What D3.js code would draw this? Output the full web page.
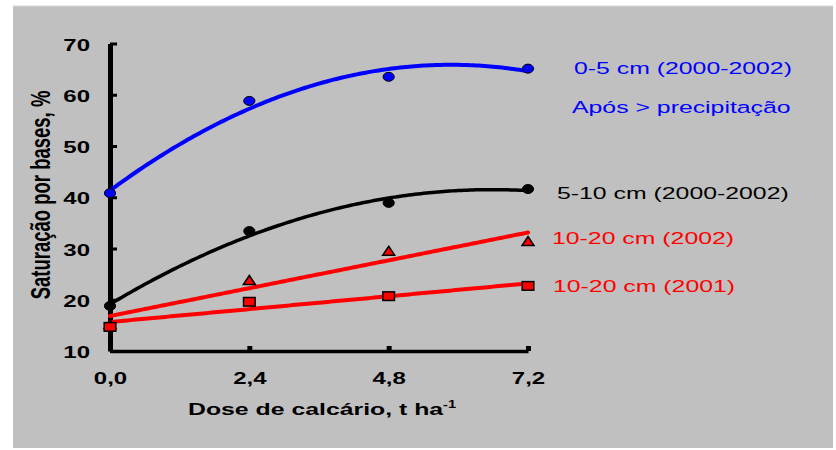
<!DOCTYPE html>
<html>
<head>
<meta charset="utf-8">
<script src="https://cdn.jsdelivr.net/npm/d3@7"></script>
<style>
  body { margin: 0; background: #fff; }
  svg { display: block; }
  text { font-family: Arial, "Liberation Sans", sans-serif; }
</style>
</head>
<body>
<script>
// data
var doses = [0, 2.4, 4.8, 7.2];
var sat0to5 = [40.8, 58.8, 63.5, 65.1];
var sat5to10 = [18.8, 33.4, 38.9, 41.6];
var sat10to20y2002 = [15.2, 23.8, 29.5, 31.4];
var sat10to20y2001 = [14.7, 19.6, 20.7, 22.7];
var yTicks = [10, 20, 30, 40, 50, 60, 70];
var xTicks = [0, 2.4, 4.8, 7.2];
var legendLabels = ["0-5 cm (2000-2002)", "Após > precipitação", "5-10 cm (2000-2002)", "10-20 cm (2002)", "10-20 cm (2001)"];

var width = 836, height = 450;
var SX = 1.5; // the original picture is stretched sideways

// least squares trendline, like the spreadsheet does
var polyfit = function(xs, ys, deg) {
    var n = deg + 1, m = [];
    for (var i = 0; i < n; i++) {
        m[i] = [];
        for (var j = 0; j < n; j++) {
            m[i][j] = d3.sum(xs, function(x) { return Math.pow(x, i + j); });
        }
        m[i][n] = d3.sum(xs, function(x, k) { return Math.pow(x, i) * ys[k]; });
    }
    for (var c = 0; c < n; c++) {
        for (var r = c + 1; r < n; r++) {
            var f = m[r][c] / m[c][c];
            for (var q = c; q <= n; q++) m[r][q] -= f * m[c][q];
        }
    }
    var coef = [];
    for (var r2 = n - 1; r2 >= 0; r2--) {
        var s = m[r2][n];
        for (var q2 = r2 + 1; q2 < n; q2++) s -= m[r2][q2] * coef[q2];
        coef[r2] = s / m[r2][r2];
    }
    return function(x) {
        return d3.sum(coef, function(a, k) { return a * Math.pow(x, k); });
    };
};

var series = [
    {values: sat0to5, deg: 2, color: "#0000ff", width: 4, marker: "circle", fill: "#0000ff", stroke: "#000"},
    {values: sat5to10, deg: 2, color: "#000000", width: 3.5, marker: "circle", fill: "#000", stroke: "#000"},
    {values: sat10to20y2002, deg: 1, color: "#ff0000", width: 4, marker: "triangle", fill: "#ff0000", stroke: "#000"},
    {values: sat10to20y2001, deg: 1, color: "#ff0000", width: 4, marker: "square", fill: "#ff0000", stroke: "#000"}
];

var svg = d3.select("body").append("svg")
    .attr("width", width)
    .attr("height", height);

svg.append("rect")
    .attr("x", 13).attr("y", 6)
    .attr("width", 820).attr("height", 442)
    .attr("fill", "#c0c0c0");
svg.append("line")
    .attr("x1", 13).attr("x2", 833).attr("y1", 6).attr("y2", 6)
    .attr("stroke", "#d8d8d8").attr("stroke-width", 1);

var x = d3.scaleLinear().domain([0, 7.2]).range([110, 528]);
var y = d3.scaleLinear().domain([10, 70]).range([351, 43.5]);

// y axis
var yAxis = svg.append("g")
    .attr("transform", "translate(110,0)")
    .call(d3.axisLeft(y).tickValues(yTicks).tickSizeInner(-7).tickSizeOuter(0));
yAxis.select(".domain").attr("stroke", "#000").attr("stroke-width", 5);
yAxis.selectAll(".tick line").attr("stroke", "#000").attr("stroke-width", 3);
yAxis.selectAll(".tick text")
    .attr("x", 0).attr("dy", "0.42em")
    .attr("transform", "translate(-20,0) scale(" + SX + ",1)")
    .attr("text-anchor", "end")
    .style("font-size", "16px").style("font-weight", "bold")
    .attr("fill", "#000");

// x axis
var xAxis = svg.append("g")
    .attr("transform", "translate(0,351)")
    .call(d3.axisBottom(x).tickValues(xTicks).tickSizeInner(-5).tickSizeOuter(0).tickPadding(22)
        .tickFormat(function(d) { return d.toFixed(1).replace(".", ","); }));
xAxis.select(".domain").attr("stroke", "#000").attr("stroke-width", 3.5);
xAxis.selectAll(".tick line").attr("stroke", "#000").attr("stroke-width", 5);
xAxis.selectAll(".tick text")
    .attr("transform", "scale(" + SX + ",1)")
    .style("font-size", "16px").style("font-weight", "bold")
    .attr("fill", "#000");

// axis titles
var xt = svg.append("text")
    .attr("transform", "translate(188,415) scale(1.46,1)")
    .style("font-size", "17px").style("font-weight", "bold")
    .attr("fill", "#000");
xt.append("tspan").text("Dose de calcário, t ha");
xt.append("tspan").attr("dy", -7).style("font-size", "10px").text("-1");

svg.append("text")
    .attr("transform", "translate(50,195) scale(" + SX + ",1) rotate(-90)")
    .attr("text-anchor", "middle")
    .style("font-size", "18.5px").style("font-weight", "bold")
    .attr("fill", "#000")
    .text("Saturação por bases, %");

// trendlines
var samples = d3.range(0, 7.2001, 0.05);
var line = d3.line()
    .x(function(d) { return x(d[0]); })
    .y(function(d) { return y(d[1]); });

series.forEach(function(s) {
    var fit = polyfit(doses, s.values, s.deg);
    svg.append("path")
        .datum(samples.map(function(t) { return [t, fit(t)]; }))
        .attr("d", line)
        .attr("fill", "none")
        .attr("stroke", s.color)
        .attr("stroke-width", s.width)
        .attr("stroke-linecap", "round");
});

// markers
var markerOrder = [2, 3, 0, 1];
markerOrder.forEach(function(idx) {
    var s = series[idx];
    var g = svg.append("g");
    var pts = g.selectAll(".pt")
        .data(s.values.map(function(v, i) { return [doses[i], v]; }))
        .enter();
    if (s.marker === "circle") {
        pts.append("ellipse")
            .attr("cx", function(d) { return x(d[0]); })
            .attr("cy", function(d) { return y(d[1]); })
            .attr("rx", 5.6).attr("ry", 4.5)
            .attr("fill", s.fill)
            .attr("stroke", s.stroke).attr("stroke-width", 1);
    } else if (s.marker === "square") {
        pts.append("rect")
            .attr("x", function(d) { return x(d[0]) - 5.8; })
            .attr("y", function(d) { return y(d[1]) - 4.3; })
            .attr("width", 11.6).attr("height", 8.6)
            .attr("fill", s.fill)
            .attr("stroke", s.stroke).attr("stroke-width", 1.5);
    } else {
        pts.append("path")
            .attr("d", "M0,-4.8L6,4.2L-6,4.2Z")
            .attr("transform", function(d) { return "translate(" + x(d[0]) + "," + y(d[1]) + ")"; })
            .attr("fill", s.fill)
            .attr("stroke", s.stroke).attr("stroke-width", 1.5)
            .attr("stroke-linejoin", "miter");
    }
});

// labels beside the curves
var labelPos = [[574, 74, "#0000ff"], [572, 113, "#0000ff"], [557, 199, "#000000"], [552, 244, "#ff0000"], [553, 292, "#ff0000"]];
svg.selectAll(".lab")
    .data(legendLabels)
    .enter()
    .append("text")
    .attr("class", "lab")
    .attr("transform", function(d, i) { return "translate(" + labelPos[i][0] + "," + labelPos[i][1] + ") scale(1.46,1)"; })
    .attr("fill", function(d, i) { return labelPos[i][2]; })
    .style("font-size", "17px")
    .text(function(d) { return d; });
</script>
</body>
</html>
